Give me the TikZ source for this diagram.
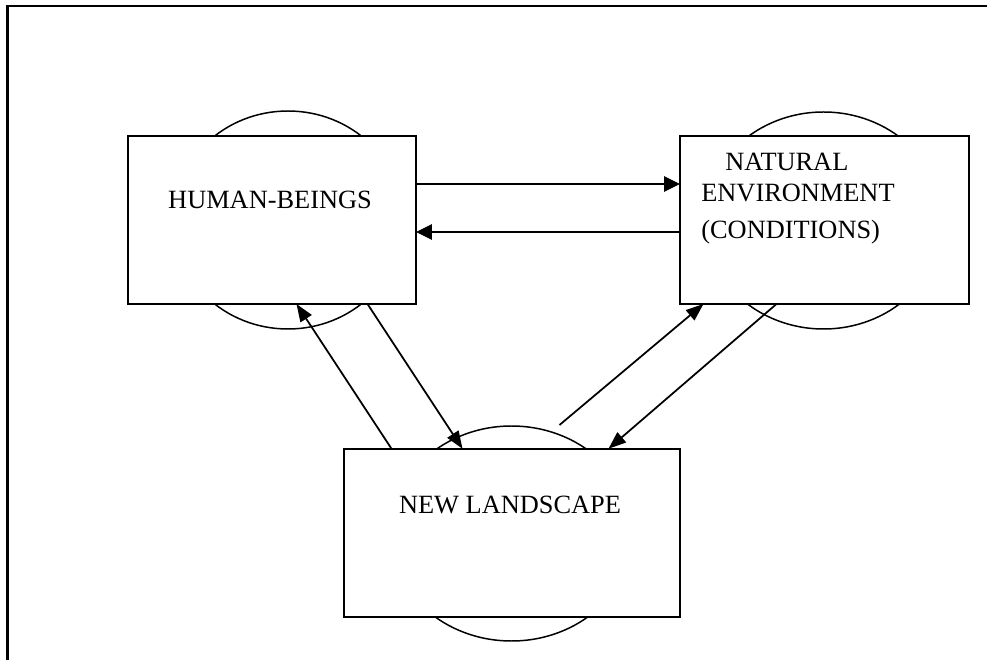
\documentclass[tikz,border=0pt]{standalone}
\usepackage{fontspec}
\setmainfont{Liberation Serif}
\usepackage{tikz}
\usetikzlibrary{shapes.geometric,arrows.meta}

\begin{document}
\begin{tikzpicture}[box_node/.style={rectangle,draw,fill=white,line width=1pt,outer sep=0pt},
    oval_node/.style={ellipse,draw,line width=0.85pt,inner sep=0pt,outer sep=0pt},
    text_node/.style={inner sep=0pt,font=\fontsize{15}{18}\selectfont},
    thin_arrow/.style={line width=1pt,-{Triangle[length=10pt,width=7.5pt]}},
    thick_arrow/.style={line width=1.5pt,-{Triangle[length=9pt,width=8.5pt]}}]

    \useasboundingbox (0,0) rectangle (19.74,-13.2);
    \draw[line width=1.2pt] (19.74,-0.12) -- (0.15,-0.12) -- (0.15,-13.2);

    \node[oval_node, minimum width=4.6cm, minimum height=4.36cm] (4) at (5.76,-4.4) {};
    \node[oval_node, minimum width=4.76cm, minimum height=4.34cm] (5) at (16.47,-4.41) {};
    \node[oval_node, minimum width=4.84cm, minimum height=4.3cm] (6) at (10.23,-10.67) {};

    \node[box_node, minimum width=5.76cm, minimum height=3.36cm] (1) at (5.44,-4.4) {};
    \node[box_node, minimum width=5.78cm, minimum height=3.36cm] (2) at (16.49,-4.4) {};
    \node[box_node, minimum width=6.72cm, minimum height=3.37cm] (3) at (10.24,-10.66) {};

    \node[text_node, anchor=base] (7) at (5.40,-4.18) {HUMAN-BEINGS};
    \node[text_node, anchor=base west] (8) at (14.5,-3.42) {NATURAL};
    \node[text_node, anchor=base west] (9) at (14.02,-4.04) {ENVIRONMENT};
    \node[text_node, anchor=base west] (10) at (14.02,-4.78) {(CONDITIONS)};
    \node[text_node, anchor=base] (11) at (10.2,-10.28) {NEW LANDSCAPE};

    \coordinate (12) at (11.19,-8.5);

    \draw[thick_arrow] ([yshift=0.72cm]1.east) -- ([yshift=0.72cm]2.west);
    \draw[thick_arrow] ([yshift=-0.24cm]2.west) -- ([yshift=-0.24cm]1.east);

    \draw[thin_arrow] ([xshift=-2.41cm]3.north) -- ([xshift=0.49cm]1.south);
    \draw[thin_arrow] ([xshift=1.91cm]1.south) -- ([xshift=-0.99cm]3.north);
    \draw[thin_arrow] (12) -- ([xshift=-2.42cm]2.south);
    \draw[thin_arrow] ([xshift=-0.96cm]2.south) -- ([xshift=1.93cm]3.north);
\end{tikzpicture}
\end{document}
